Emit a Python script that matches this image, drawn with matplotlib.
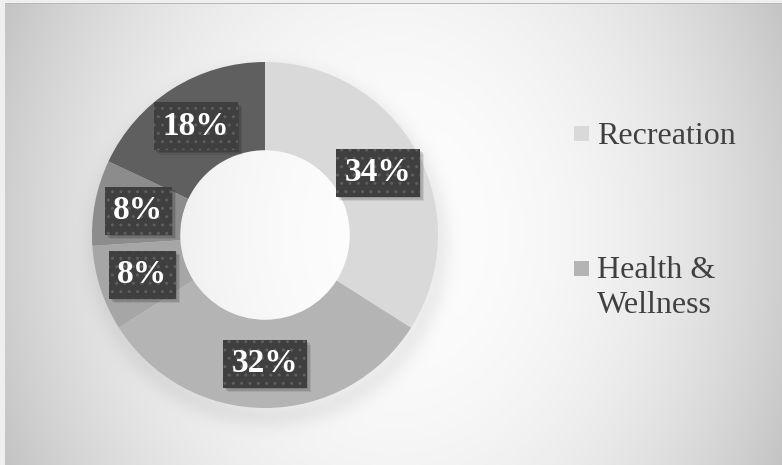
import numpy as np
import matplotlib
matplotlib.use("Agg")
import matplotlib.pyplot as plt
from matplotlib.patches import Rectangle
from matplotlib.transforms import IdentityTransform

# Budget shares (percent), clockwise from 12 o'clock
shares = [34, 32, 8, 8, 18]
ring_colors = ["#d9d9d9", "#b4b4b4", "#a6a6a6", "#8c8c8c", "#5f5f5f"]
legend_labels = ["Recreation", "Health &\nWellness"]

W, H = 782, 465
fig = plt.figure(figsize=(W / 100, H / 100), dpi=100)
fig.patch.set_facecolor("#f0f0f0")

# soft radial background behind the plot area
bg = fig.add_axes([0, 0, 1, 1], zorder=0)
yy, xx = np.mgrid[0:H, 0:W].astype(float)
u = np.sqrt(((xx - 395) / 410) ** 2 + ((yy - 232) / 520) ** 2)
shade = 253 - 52 * u ** 2.2
# faint drop shadow under the ring
rr = np.sqrt((xx - 268) ** 2 + (yy - 245) ** 2)
shadow = np.exp(-((rr - 170) / 14) ** 2) * (rr > 160) * 16
shade = shade - shadow
shade = np.clip(shade, 0, 255) / 255
img = np.dstack([shade] * 3)
img[:3, :] = 0.94
img[:, :5] = 0.94
img[3, 5:] = 0.72
bg.imshow(img, extent=(0, W, H, 0), interpolation="bilinear")
bg.set_xlim(0, W)
bg.set_ylim(H, 0)
bg.axis("off")

# donut
cx, cy, r = 265, 235, 173
ax = fig.add_axes([(cx - r) / W, (H - cy - r) / H, 2 * r / W, 2 * r / H], zorder=1)
ring = 0.51
wedges, _, autotexts = ax.pie(
    shares, colors=ring_colors, startangle=90, counterclock=False,
    autopct="%d%%", pctdistance=1 - ring / 2,
    wedgeprops=dict(width=ring, edgecolor="none"),
)
ax.set_xlim(-1, 1)
ax.set_ylim(-1, 1)
ax.axis("off")

for t in autotexts:
    t.set(fontfamily="Liberation Serif", fontweight="bold", fontsize=24,
          color="white", zorder=5)
    t.set_bbox(dict(boxstyle="square,pad=0.25", facecolor="#3f3f3f",
                    edgecolor="#5e5e5e", linewidth=0, hatch=".."))

# blurred box shadows under the labels: faint rectangles stepped down-right
fig.canvas.draw()
for t in autotexts:
    bb = t.get_bbox_patch().get_window_extent()
    for k, a in [(1.5, 0.12), (3, 0.12), (4.5, 0.08)]:
        ax.add_patch(Rectangle((bb.x0 + k, bb.y0 - k), bb.width, bb.height,
                               transform=IdentityTransform(), facecolor="black",
                               edgecolor="none", alpha=a, zorder=3, clip_on=False))

# legend drawn by hand: square + wrapped label
baselines = [144, 278]
line_h = 35
for lab, col, y0 in zip(legend_labels, ring_colors, baselines):
    fig.patches.append(Rectangle((574 / W, 1 - (y0 - 2.5) / H), 15 / W, 15 / H,
                                 transform=fig.transFigure, facecolor=col,
                                 edgecolor="none", zorder=3))
    for i, line in enumerate(lab.split("\n")):
        fig.text(597 / W, 1 - (y0 + i * line_h) / H, line,
                 fontfamily="Liberation Serif", fontsize=23, color="#404040",
                 va="baseline", ha="left", zorder=3)

fig.savefig("out.png", dpi=100)
